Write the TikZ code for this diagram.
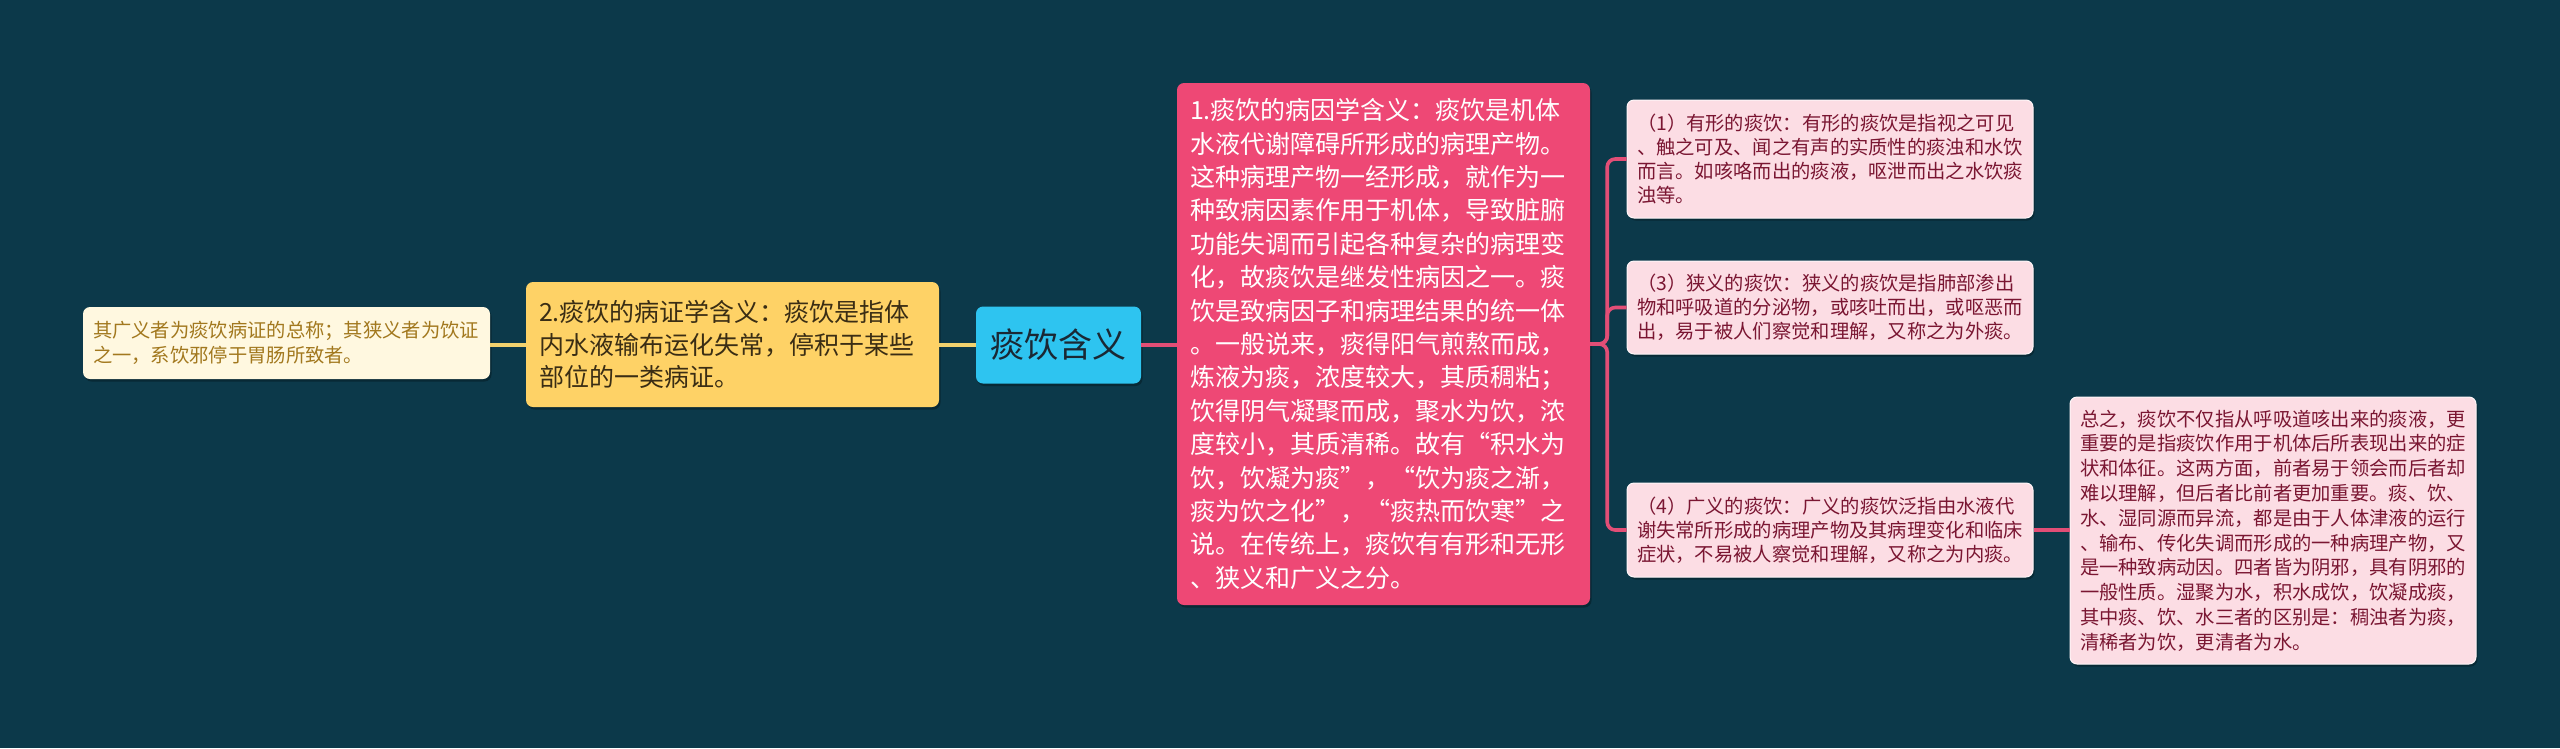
\documentclass[tikz,border=0pt]{standalone}
\usepackage{fontspec}
\setmainfont{Noto Sans CJK SC}
\usetikzlibrary{shadows}
\definecolor{bg}{RGB}{12,57,74}
\definecolor{cyanc}{RGB}{46,196,240}
\definecolor{centertext}{RGB}{26,40,52}
\definecolor{pinkmain}{RGB}{238,72,117}
\definecolor{pinkline}{RGB}{226,78,118}
\definecolor{subfill}{RGB}{252,221,228}
\definecolor{subtext}{RGB}{122,22,50}
\definecolor{yellowc}{RGB}{254,210,102}
\definecolor{yellowtext}{RGB}{58,45,20}
\definecolor{yline}{RGB}{242,210,110}
\definecolor{leaffill}{RGB}{255,248,224}
\definecolor{leaftext}{RGB}{162,120,30}
\tikzset{
  shad/.style={drop shadow={shadow xshift=1.5pt, shadow yshift=-2.5pt, opacity=0.28, fill=black}},
  basebox/.style={rounded corners=7pt, align=left, inner ysep=0pt, anchor=center, shad},
  centerbox/.style={basebox, align=center, fill=cyanc, text=centertext, minimum width=165pt, minimum height=77pt, inner xsep=0pt, font=\fontsize{34}{40}\selectfont},
  mainbox/.style={basebox, fill=pinkmain, text=white, inner xsep=13pt, text width=387pt, font=\fontsize{25}{33.4}\selectfont},
  yellowbox/.style={basebox, fill=yellowc, text=yellowtext, inner xsep=13pt, text width=387pt, font=\fontsize{25}{32.5}\selectfont},
  leafbox/.style={basebox, fill=leaffill, text=leaftext, inner xsep=10pt, text width=387pt, minimum width=407pt, font=\fontsize{19.3}{25}\selectfont},
  subbox/.style={basebox, fill=subfill, draw=white!75!subfill, line width=1pt, text=subtext, inner xsep=10pt, text width=386pt, minimum width=406pt, font=\fontsize{19.3}{24.2}\selectfont},
  pline/.style={draw=pinkline, line width=3.6pt},
  ylinest/.style={draw=yline, line width=3.6pt},
}
\begin{document}
\begin{tikzpicture}[x=1pt,y=-1pt]
\fill[bg] (0,0) rectangle (2560,748);
\useasboundingbox (0,0) rectangle (2560,748);

\node[centerbox] (c) at (1058.5,345) {痰饮含义};

\node[mainbox, minimum width=413pt, minimum height=522pt] (p) at (1383.5,344) {1.痰饮的病因学含义：痰饮是机体\\
水液代谢障碍所形成的病理产物。\\
这种病理产物一经形成，就作为一\\
种致病因素作用于机体，导致脏腑\\
功能失调而引起各种复杂的病理变\\
化，故痰饮是继发性病因之一。痰\\
饮是致病因子和病理结果的统一体\\
。一般说来，痰得阳气煎熬而成，\\
炼液为痰，浓度较大，其质稠粘；\\
饮得阴气凝聚而成，聚水为饮，浓\\
度较小，其质清稀。故有“积水为\\
饮，饮凝为痰”，“饮为痰之渐，\\
痰为饮之化”，“痰热而饮寒”之\\
说。在传统上，痰饮有有形和无形\\
、狭义和广义之分。};

\node[yellowbox, minimum width=413pt, minimum height=125pt] (y) at (732.5,344.5) {2.痰饮的病证学含义：痰饮是指体\\
内水液输布运化失常，停积于某些\\
部位的一类病证。};

\node[leafbox, minimum height=72pt] (leaf) at (286.5,343) {其广义者为痰饮病证的总称；其狭义者为饮证\\
之一，系饮邪停于胃肠所致者。};

\node[subbox, minimum height=118pt] (s1) at (1830,159) {（1）有形的痰饮：有形的痰饮是指视之可见\\
、触之可及、闻之有声的实质性的痰浊和水饮\\
而言。如咳咯而出的痰液，呕泄而出之水饮痰\\
浊等。};

\node[subbox, minimum height=93pt] (s3) at (1830,307.5) {（3）狭义的痰饮：狭义的痰饮是指肺部渗出\\
物和呼吸道的分泌物，或咳吐而出，或呕恶而\\
出，易于被人们察觉和理解，又称之为外痰。};

\node[subbox, minimum height=94pt] (s4) at (1830,530) {（4）广义的痰饮：广义的痰饮泛指由水液代\\
谢失常所形成的病理产物及其病理变化和临床\\
症状，不易被人察觉和理解，又称之为内痰。};

\node[subbox, minimum height=267pt, font=\fontsize{19.3}{24.8}\selectfont] (sum) at (2273,530.5) {总之，痰饮不仅指从呼吸道咳出来的痰液，更\\
重要的是指痰饮作用于机体后所表现出来的症\\
状和体征。这两方面，前者易于领会而后者却\\
难以理解，但后者比前者更加重要。痰、饮、\\
水、湿同源而异流，都是由于人体津液的运行\\
、输布、传化失调而形成的一种病理产物，又\\
是一种致病动因。四者皆为阴邪，具有阴邪的\\
一般性质。湿聚为水，积水成饮，饮凝成痰，\\
其中痰、饮、水三者的区别是：稠浊者为痰，\\
清稀者为饮，更清者为水。};

\draw[ylinest] (c.west) -- (c.west -| y.east);
\draw[ylinest] (y.west |- c.west) -- (c.west -| leaf.east);
\draw[pline] (c.east) -- (c.east -| p.west);
\draw[pline, rounded corners=8pt] (p.east) -- ++(17,0) |- (s1.west);
\draw[pline, rounded corners=8pt] (p.east) -- ++(17,0) |- (s3.west);
\draw[pline, rounded corners=8pt] (p.east) -- ++(17,0) |- (s4.west);
\draw[pline] (s4.east) -- (s4.east -| sum.west);
\end{tikzpicture}
\end{document}
